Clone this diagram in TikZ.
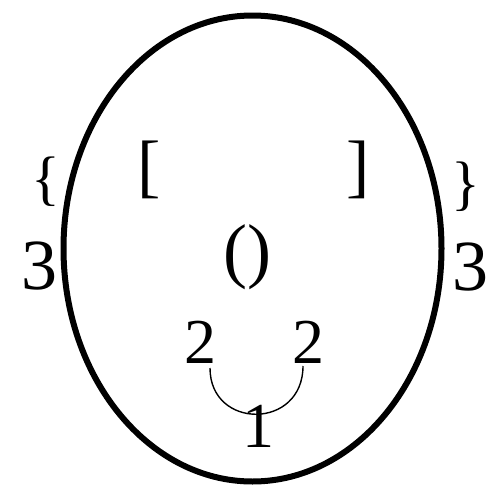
\documentclass[tikz,border=0pt]{standalone}
\usepackage{fontspec}
\setmainfont{Liberation Serif}
\tikzset{
  glyph/.style={inner sep=0pt, outer sep=0pt, anchor=base},
  face/.style={line width=6pt},
  smile/.style={line width=1.4pt}
}
\newcommand{\fs}[1]{\fontsize{#1}{#1}\selectfont}
\begin{document}
\begin{tikzpicture}[x=1pt,y=-1pt]
\useasboundingbox (0,0) rectangle (488,493);
\fill[white] (0,0) rectangle (488,493);
\draw[face] (252.5,248.5) ellipse [x radius=189, y radius=233];
% brackets
\node[glyph, font=\fs{70}] (lb) at (149,189) {[};
\node[glyph, font=\fs{70}] (rb) at (358,189) {]};
\node[glyph, font=\fs{72}] (nose) at (247.5,274) {()};
% braces
\node[glyph, font=\fs{60}] (lbr) at (46,198) {\{};
\node[glyph, font=\fs{60}] (rbr) at (466,203) {\}};
% threes
\node[glyph, font=\fs{72}] (l3) at (39,289) {3};
\node[glyph, font=\fs{72}] (r3) at (470,290) {3};
% mouth
\node[glyph, font=\fs{64}] (l2) at (200,363) {2};
\node[glyph, font=\fs{64}] (r2) at (308,363) {2};
\node[glyph, font=\fs{64}] (one) at (258,447) {1};
\coordinate (a1) at (210,368);
\coordinate (a2) at (303,366);
\draw[smile] (a1) .. controls (210,430) and (303,430) .. (a2);
\end{tikzpicture}
\end{document}
